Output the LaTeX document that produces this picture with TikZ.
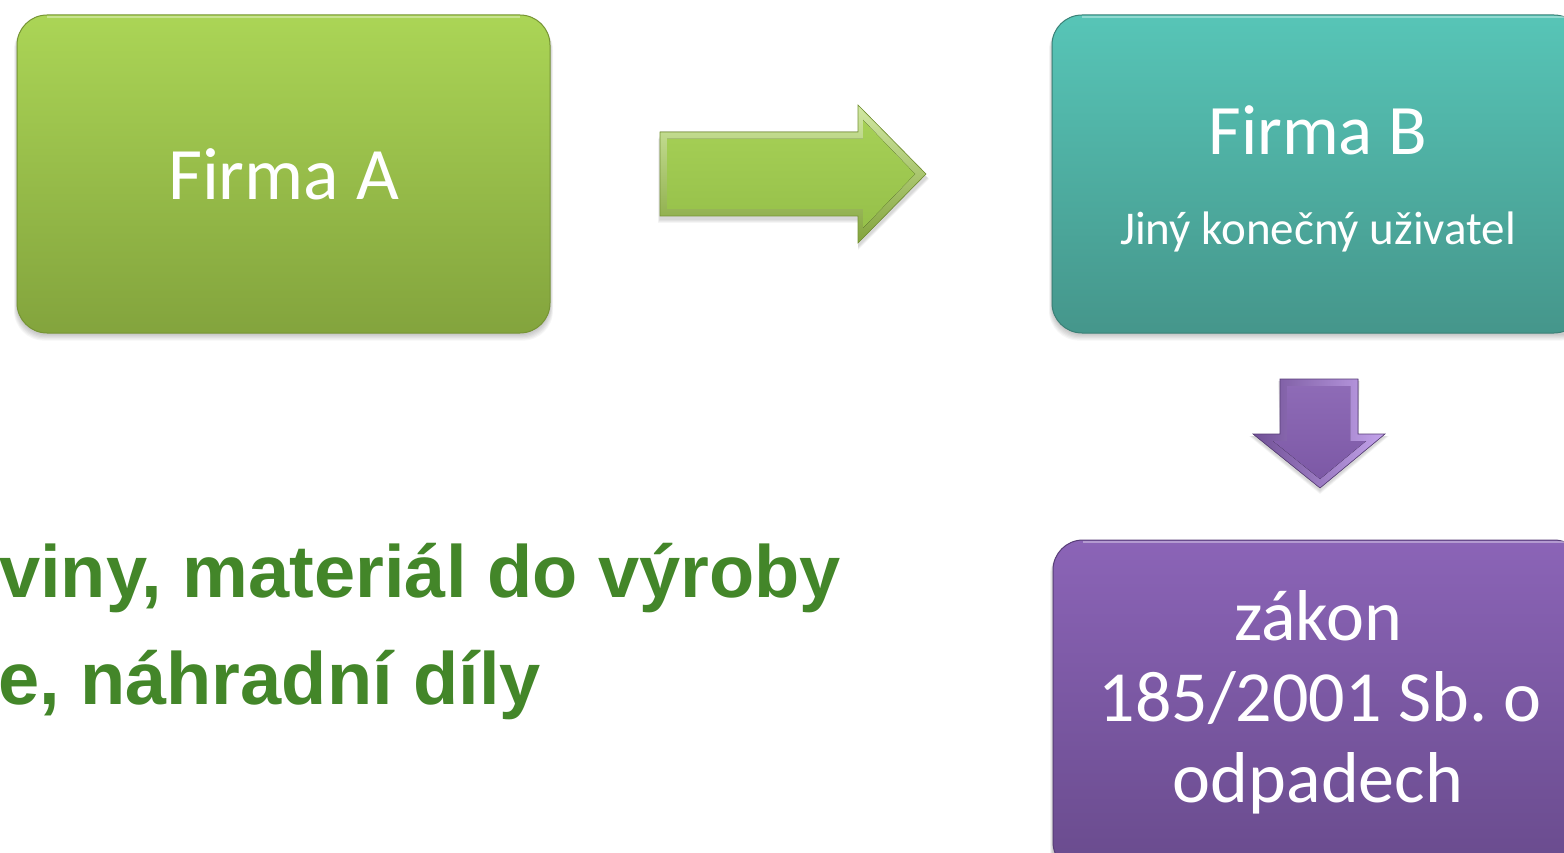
\documentclass[tikz,border=0pt]{standalone}
\usepackage{fontspec}
\newfontfamily\calfont{Carlito}
\newfontfamily\arfont{Liberation Sans}
\frenchspacing
\definecolor{gTop}{RGB}{171,213,86}
\definecolor{gBot}{RGB}{131,164,61}
\definecolor{gEdge}{RGB}{118,148,52}
\definecolor{gFaceTop}{RGB}{166,208,86}
\definecolor{gFaceBot}{RGB}{150,192,74}
\definecolor{tTop}{RGB}{87,197,183}
\definecolor{tBot}{RGB}{69,150,139}
\definecolor{tEdge}{RGB}{58,128,118}
\definecolor{pTop}{RGB}{139,100,183}
\definecolor{pBot}{RGB}{105,75,141}
\definecolor{pEdge}{RGB}{88,62,120}
\definecolor{pFace}{RGB}{132,94,176}
\definecolor{pLight}{RGB}{196,164,236}
\definecolor{txtGreen}{RGB}{67,134,41}
\begin{document}
\begin{tikzpicture}[x=1pt,y=-1pt,
  boxbase/.style={rectangle,rounded corners=30,inner sep=0,line width=1pt},
  boxA/.style={boxbase,top color=gTop,bottom color=gBot,draw=gEdge},
  boxB/.style={boxbase,top color=tTop,bottom color=tBot,draw=tEdge},
  boxC/.style={boxbase,top color=pTop,bottom color=pBot,draw=pEdge},
  shadowbox/.style={fill=black,fill opacity=0.035,draw=none,rounded corners=30},
  ctext/.style={text=white,inner sep=0,font=\calfont},
  gtext/.style={text=txtGreen,inner sep=0,anchor=base west,font=\arfont\bfseries\fontsize{74}{80}\selectfont},
  hilite/.style={draw=white,draw opacity=0.35,line width=1.2pt}
]
\useasboundingbox (0,0) rectangle (1564,853);
\fill[white] (0,0) rectangle (1564,853);

% shadows
\foreach \d in {1,...,6}{
  \fill[shadowbox] (17-\d*0.5,20) rectangle (550+\d*0.5,334+\d*1.1);
  \fill[shadowbox] (1052-\d*0.5,20) rectangle (1590,334+\d*1.1);
  \fill[shadowbox] (1053-\d*0.5,545) rectangle (1590,880);
}

% boxes
\node[boxA,minimum width=533,minimum height=318] (A) at (283.5,174) {};
\node[boxB,minimum width=532,minimum height=318] (B) at (1318,174) {};
\node[boxC,minimum width=531,minimum height=332] (C) at (1318.5,706) {};

% top highlights
\draw[hilite] (47,17) -- (520,17);
\draw[hilite] (1082,17) -- (1564,17);
\draw[hilite] (1083,542) -- (1564,542);

% texts in boxes
\node[ctext,font=\calfont\fontsize{74}{80}\selectfont] (At) at (A.center) {Firma A};
\node[ctext,anchor=base,font=\calfont\fontsize{71}{80}\selectfont] (Bt1) at (1318,155) {Firma B};
\node[ctext,anchor=base,font=\calfont\fontsize{47}{54}\selectfont] (Bt2) at (1318,245) {Jiný konečný uživatel};
\node[ctext,anchor=base,font=\calfont\fontsize{72}{80}\selectfont] (Ct1) at (1318,640) {zákon};
\node[ctext,anchor=base,font=\calfont\fontsize{72}{80}\selectfont] (Ct2) at (1320,721) {185/2001 Sb. o};
\node[ctext,anchor=base,font=\calfont\fontsize{72}{80}\selectfont] (Ct3) at (1318,802) {odpadech};

% right block arrow (A -> B)
\foreach \d in {1,...,4}
  \fill[black,fill opacity=0.04] (660-\d*0.5,135+\d) -- (858,135+\d) -- (858,108+\d) -- (927+\d*0.5,177+\d*0.5) -- (858,246+\d) -- (858,219+\d) -- (660-\d*0.5,219+\d) -- cycle;
\fill[top color=gTop!55!white,bottom color=gBot,draw=gEdge,line width=0.6pt]
  (660,132) -- (858,132) -- (858,105) -- (926,174) -- (858,243) -- (858,216) -- (660,216) -- cycle;
\fill[top color=gFaceTop,bottom color=gFaceBot]
  (667,139) -- (863,139) -- (863,120) -- (915,174) -- (863,228) -- (863,209) -- (667,209) -- cycle;

% down block arrow (B -> C)
\foreach \d in {1,...,4}
  \fill[black,fill opacity=0.04] (1280-\d*0.5,381) -- (1358+\d*0.5,381) -- (1358,436) -- (1385+\d,436) -- (1320,490+\d) -- (1253-\d,436) -- (1280,436) -- cycle;
\fill[left color=pFace!85!black,right color=pLight,draw=pEdge,line width=0.6pt]
  (1280,379) -- (1358,379) -- (1358,434) -- (1385,434) -- (1320,488) -- (1253,434) -- (1280,434) -- cycle;
\fill[top color=pFace!92!white,bottom color=pFace!94!black]
  (1287,386) -- (1350,386) -- (1350,441) -- (1366,441) -- (1320,479) -- (1273,441) -- (1287,441) -- cycle;

% green text
\node[gtext] (T1) at (-1,597) {viny, materiál do výroby};
\node[gtext] (T2) at (-2,704) {e, náhradní díly};
\end{tikzpicture}
\end{document}
